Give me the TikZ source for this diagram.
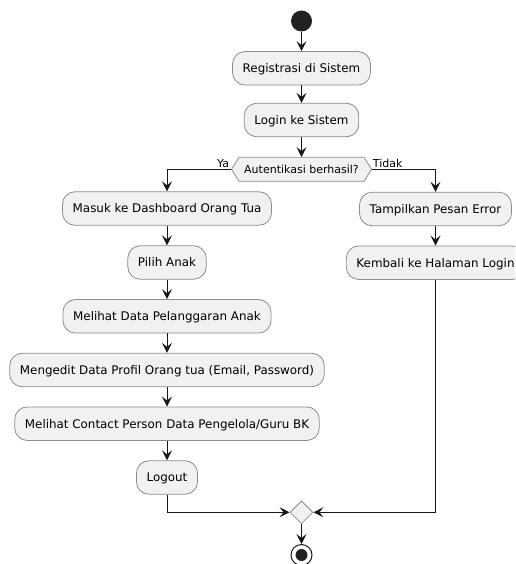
\documentclass[tikz,border=0pt]{standalone}
\usepackage{fontspec}
\setmainfont{DejaVu Sans}
\usetikzlibrary{arrows.meta,shapes.geometric}
\definecolor{boxfill}{HTML}{F1F1F1}
\definecolor{boxline}{HTML}{8C8C8C}
\definecolor{ink}{HTML}{181818}
\definecolor{dot}{HTML}{222222}

\begin{document}
\begin{tikzpicture}[x=1pt,y=-1pt,
  action/.style={draw=boxline, line width=0.8pt, fill=boxfill, rounded corners=12.5pt,
    minimum height=33.5pt, inner xsep=10.2pt, inner ysep=0pt,
    text height=8.7pt, text depth=0pt, font=\fontsize{11.9}{14}\selectfont},
  flow/.style={draw=ink, line width=1pt, -{Stealth[length=10pt,width=10pt,inset=4pt]}},
  guard/.style={font=\fontsize{11}{13}\selectfont, inner sep=0pt},
  merge/.style={diamond, draw=boxline, line width=0.8pt, fill=boxfill,
    minimum width=23pt, minimum height=23pt, inner sep=0pt},
]
\useasboundingbox (0,0) rectangle (515,564);
\clip (0,0) rectangle (515,564);

% start
\node[circle, fill=dot, minimum size=21pt, inner sep=0pt] (start) at (301.5,21) {};

% common steps
\node[action] (reg) at (301.5,68.3) {Registrasi di Sistem};
\node[action] (login) at (301.5,120) {Login ke Sistem};

% decision
\filldraw[fill=boxfill, draw=boxline, line width=0.8pt]
  (231.5,169.3) -- (239,157.3) -- (364,157.3) -- (371.5,169.3)
  -- (364,181.3) -- (239,181.3) -- cycle;
\node[minimum width=140pt, minimum height=24pt, inner sep=0pt,
  text height=8pt, text depth=0pt, font=\fontsize{11}{13}\selectfont]
  (check) at (301.5,169.3) {Autentikasi berhasil?};

% successful login branch
\node[action] (masuk) at (167,208.5) {Masuk ke Dashboard Orang Tua};
\node[action] (pilih) at (167,262.5) {Pilih Anak};
\node[action] (lihat) at (167,316.3) {Melihat Data Pelanggaran Anak};
\node[action] (edit) at (167,370) {Mengedit Data Profil Orang tua (Email, Password)};
\node[action] (kontak) at (167,423.7) {Melihat Contact Person Data Pengelola/Guru BK};
\node[action] (logout) at (167,477.5) {Logout};

% failed login branch
\node[action] (tampil) at (435.5,209) {Tampilkan Pesan Error};
\node[action] (kembali) at (435.5,262.7) {Kembali ke Halaman Login};

% merge and end
\node[merge] (join) at (301.5,512.3) {};
\node[circle, draw=ink, line width=1pt, fill=white, minimum size=21pt, inner sep=0pt] (stop) at (301.5,555) {};
\node[circle, fill=dot, minimum size=12pt, inner sep=0pt] (stopdot) at (stop) {};

% guard labels
\node[guard, anchor=base east] (ya) at ([xshift=-2pt,yshift=2pt]check.west) {Ya};
\node[guard, anchor=base west] (tidak) at ([xshift=1pt,yshift=2pt]check.east) {Tidak};

% connectors
\draw[flow] (start) -- (reg);
\draw[flow] (reg) -- (login);
\draw[flow] (login) -- (check);
\draw[flow] (check.west) -| (masuk.north);
\draw[flow] (check.east) -| (tampil.north);
\draw[flow] (masuk) -- (pilih);
\draw[flow] (pilih) -- (lihat);
\draw[flow] (lihat) -- (edit);
\draw[flow] (edit) -- (kontak);
\draw[flow] (kontak) -- (logout);
\draw[flow] (tampil) -- (kembali);
\draw[flow] (logout.south) |- (join.west);
\draw[flow] (kembali.south) |- (join.east);
\draw[flow] (join) -- (stop);
\end{tikzpicture}
\end{document}
